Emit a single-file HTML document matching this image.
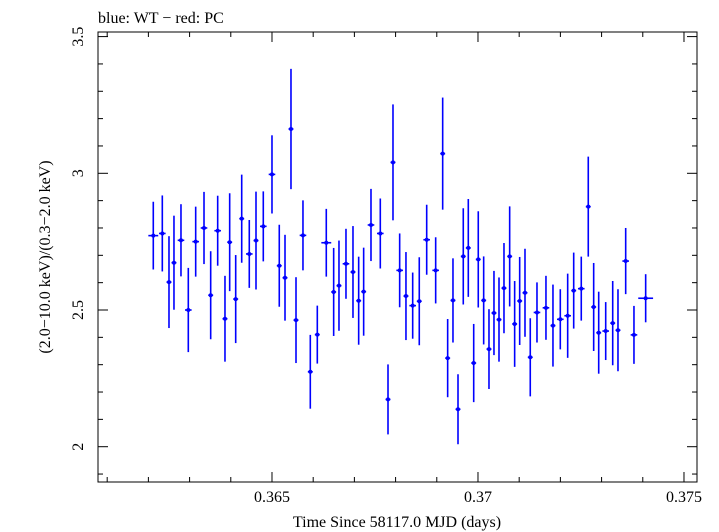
<!DOCTYPE html>
<html><head><meta charset="utf-8">
<style>
html,body{margin:0;padding:0;background:#fff;}
svg{display:block;font-family:"Liberation Serif",serif;}
</style></head>
<body>
<svg id="chart" width="719" height="532" viewBox="0 0 719 532" xmlns="http://www.w3.org/2000/svg">
<text x="98" y="23" font-size="16" fill="#000">blue: WT − red: PC</text>
<rect x="98" y="32" width="599" height="450" fill="none" stroke="#000" stroke-width="1"/>
<g id="axes"></g>
<g id="series"></g>
<text x="397" y="527" font-size="16" text-anchor="middle">Time Since 58117.0 MJD (days)</text>
<text transform="translate(50,257) rotate(-90)" font-size="16" text-anchor="middle">(2.0−10.0 keV)/(0.3−2.0 keV)</text>
</svg>
<script>
const times = [0.362119,0.362338,0.362500,0.362621,0.362791,0.362969,0.363148,0.363350,0.363512,0.363682,0.363859,0.363973,0.364119,0.364265,0.364449,0.364612,0.364789,0.365000,0.365177,0.365316,0.365461,0.365583,0.365752,0.365930,0.366100,0.366318,0.366497,0.366626,0.366796,0.366966,0.367104,0.367225,0.367403,0.367629,0.367816,0.367937,0.368099,0.368252,0.368415,0.368575,0.368755,0.368973,0.369143,0.369264,0.369393,0.369515,0.369643,0.369765,0.369896,0.370007,0.370138,0.370267,0.370388,0.370510,0.370631,0.370769,0.370890,0.371012,0.371141,0.371269,0.371432,0.371650,0.371820,0.371998,0.372177,0.372323,0.372507,0.372677,0.372808,0.372930,0.373100,0.373270,0.373398,0.373585,0.373786,0.374070];
const ratios = [2.772,2.78,2.602,2.673,2.755,2.5,2.75,2.80,2.554,2.79,2.468,2.748,2.54,2.834,2.705,2.754,2.806,2.996,2.662,2.618,3.162,2.463,2.773,2.274,2.41,2.746,2.566,2.589,2.669,2.639,2.534,2.567,2.811,2.78,2.173,3.04,2.645,2.551,2.516,2.532,2.757,2.645,3.072,2.324,2.535,2.137,2.696,2.727,2.306,2.685,2.535,2.357,2.489,2.465,2.58,2.696,2.449,2.533,2.563,2.327,2.491,2.508,2.443,2.466,2.479,2.571,2.578,2.878,2.511,2.417,2.423,2.452,2.426,2.679,2.409,2.543];
const ratioErr = [.124,.139,.168,.172,.132,.154,.128,.132,.161,.128,.157,.179,.161,.161,.124,.179,.128,.143,.150,.157,.22,.157,.128,.135,.106,.124,.161,.165,.128,.168,.161,.161,.132,.128,.128,.212,.135,.161,.121,.161,.128,.121,.205,.143,.154,.128,.176,.179,.143,.176,.161,.146,.154,.154,.165,.183,.157,.161,.161,.143,.11,.117,.15,.11,.154,.139,.117,.183,.161,.15,.106,.154,.15,.121,.106,.088];
const timeErr = [0.00012,0.00008,0.00006,0.00006,0.00008,0.00008,0.00008,0.00008,0.00006,0.00008,0.00006,0.00006,0.00006,0.00006,0.00008,0.00006,0.00008,0.00008,0.00006,0.00006,0.00006,0.00006,0.00008,0.00006,0.00006,0.00012,0.00006,0.00006,0.00008,0.00006,0.00006,0.00006,0.00008,0.00008,0.00006,0.00006,0.00008,0.00006,0.00008,0.00006,0.00008,0.00008,0.00006,0.00006,0.00006,0.00006,0.00006,0.00006,0.00006,0.00006,0.00006,0.00006,0.00006,0.00006,0.00006,0.00006,0.00006,0.00006,0.00006,0.00006,0.00008,0.00008,0.00006,0.00008,0.00008,0.00006,0.00008,0.00006,0.00006,0.00006,0.00008,0.00006,0.00006,0.00008,0.00008,0.00018];
const xTicks = [0.365,0.370,0.375];
const xTickLabels = ["0.365","0.37","0.375"];
const yTicks = [2,2.5,3,3.5];
const yTickLabels = ["2","2.5","3","3.5"];

const NS="http://www.w3.org/2000/svg";
const X0=98,X1=697,Y0=482,Y1=32;
const xMin=0.360777,xMax=0.375316,yMin=1.8709,yMax=3.5168;
function xs(t){return X0+(t-xMin)/(xMax-xMin)*(X1-X0);}
function ys(v){return Y0-(v-yMin)/(yMax-yMin)*(Y0-Y1);}
function mk(tag,attrs,parent){const e=document.createElementNS(NS,tag);for(const k in attrs)e.setAttribute(k,attrs[k]);parent.appendChild(e);return e;}
const axes=document.getElementById('axes');
for(let t=0.361;t<=0.3753;t+=0.001){
  const x=xs(t);
  const major=xTicks.some(m=>Math.abs(m-t)<1e-7);
  const L=major?10:5;
  const a=mk('line',{x1:x,x2:x,y1:Y0,y2:Y0-L,stroke:'#000'},axes);
  
  
  const b=mk('line',{x1:x,x2:x,y1:Y1,y2:Y1+L,stroke:'#000'},axes);
  
  
}
xTicks.forEach((t,i)=>{
  const tx=mk('text',{x:xs(t),y:Y0+20,'font-size':16,'text-anchor':'middle'},axes);
  tx.textContent=xTickLabels[i];
  
  
});
for(let v=1.9;v<=3.51;v+=0.1){
  const y=ys(v);
  const major=yTicks.some(m=>Math.abs(m-v)<1e-6);
  const L=major?10:5;
  const a=mk('line',{x1:X0,x2:X0+L,y1:y,y2:y,stroke:'#000'},axes);
  
  
  const b=mk('line',{x1:X1,x2:X1-L,y1:y,y2:y,stroke:'#000'},axes);
  
  
}
yTicks.forEach((v,i)=>{
  const tx=mk('text',{transform:`translate(83,${ys(v)}) rotate(-90)`,'font-size':16,'text-anchor':'middle'},axes);
  tx.textContent=yTickLabels[i];
  
  
});
const ser=document.getElementById('series');
times.forEach((t,i)=>{
  const x=xs(t),y=ys(ratios[i]);
  const g=mk('g',{},ser);
  
  
  mk('line',{x1:x,x2:x,y1:ys(ratios[i]+ratioErr[i]),y2:ys(ratios[i]-ratioErr[i]),stroke:'#0000ff','stroke-width':1.6},g);
  mk('line',{x1:xs(t-timeErr[i]),x2:xs(t+timeErr[i]),y1:y,y2:y,stroke:'#0000ff','stroke-width':1.6},g);
  mk('circle',{cx:x,cy:y,r:2,fill:'#0000ff'},g);
});
</script>
</body></html>
